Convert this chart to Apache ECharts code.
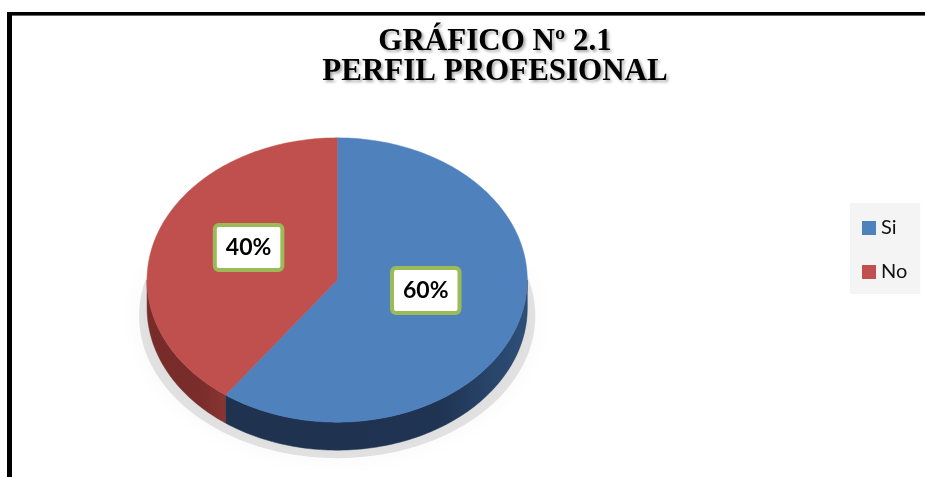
<!DOCTYPE html>
<html>
<head>
<meta charset="utf-8">
<script src="https://cdn.jsdelivr.net/npm/echarts@6/dist/echarts.min.js"></script>
<style>
  html, body { margin: 0; padding: 0; background: #fff; }
  #chart { width: 925px; height: 477px; }
</style>
</head>
<body>
<div id="chart"></div>
<script>
// data
var categories = ['Si', 'No']
var values = [60, 40]
var titleLines = ['GRÁFICO Nº 2.1', 'PERFIL PROFESIONAL']

var topColors = ['#4f81bd', '#c0504d']
var sideColors = [['#2e5079', '#1f3352', '#1f3350'], ['#8a3533', '#7a2d2b', '#772c2a']]

var total = values.reduce(function (a, b) { return a + b }, 0)

// pie geometry (fractions of the canvas)
var geo = { cx: 0.3645, cy: 0.587, rx: 0.2055, ry: 0.298, depth: 28 }

function pt (g, a, dy) {
  // angle measured clockwise from 12 o'clock
  return [g.cx + g.rx * Math.sin(a), g.cy - g.ry * Math.cos(a) + (dy || 0)]
}

function arc (g, a0, a1, dy) {
  var pts = []
  var n = Math.max(2, Math.ceil(Math.abs(a1 - a0) / 0.02))
  for (var i = 0; i <= n; i++) {
    pts.push(pt(g, a0 + (a1 - a0) * i / n, dy))
  }
  return pts
}

function makeRenderItem (idx) {
  return function (params, api) {
    var W = api.getWidth()
    var H = api.getHeight()
    var g = { cx: geo.cx * W, cy: geo.cy * H, rx: geo.rx * W, ry: geo.ry * H }
    var before = 0
    for (var i = 0; i < idx; i++) before += values[i]
    var a0 = before / total * Math.PI * 2
    var a1 = (before + api.value(0)) / total * Math.PI * 2
    var children = []

    if (idx === 0) {
      // soft shadow behind the lower half of the pie
      var gs = { cx: g.cx, cy: g.cy, rx: g.rx + 8, ry: g.ry }
      children.push({
        type: 'polygon',
        z2: 0,
        shape: { points: arc(gs, Math.PI * 0.4, Math.PI * 1.6, geo.depth + 8) },
        style: {
          fill: 'rgba(0,0,0,0.1)',
          shadowBlur: 26,
          shadowColor: 'rgba(0,0,0,0.3)'
        }
      })
    }

    // front wall
    var b0 = Math.max(a0, Math.PI / 2)
    var b1 = Math.min(a1, Math.PI * 1.5)
    if (b1 > b0) {
      var upper = arc(g, b0, b1, 0)
      var lower = arc(g, b0, b1, geo.depth).reverse()
      var sc = sideColors[idx]
      children.push({
        type: 'polygon',
        z2: 1,
        shape: { points: upper.concat(lower) },
        style: {
          fill: new echarts.graphic.LinearGradient(1, 0, 0, 0, [
            { offset: 0, color: sc[0] },
            { offset: 0.3, color: sc[1] },
            { offset: 1, color: sc[2] }
          ]),
          stroke: sc[2],
          lineWidth: 0.5
        }
      })
    }

    // top face
    children.push({
      type: 'polygon',
      z2: 5,
      shape: { points: [[g.cx, g.cy]].concat(arc(g, a0, a1, 0)) },
      style: { fill: topColors[idx], stroke: topColors[idx], lineWidth: 0.5 }
    })

    // percentage label
    var mid = (a0 + a1) / 2
    var lp = [g.cx + g.rx * 0.49 * Math.sin(mid), g.cy - g.ry * 0.49 * Math.cos(mid) - 11]
    children.push({
      type: 'text',
      z2: 10,
      x: lp[0],
      y: lp[1],
      style: {
        text: Math.round(api.value(0) / total * 100) + '%',
        fontFamily: 'Lato',
        fontWeight: 'bold',
        fontSize: 23,
        lineHeight: 25,
        fill: '#000',
        align: 'center',
        verticalAlign: 'middle',
        backgroundColor: '#fff',
        borderColor: '#9bbb59',
        borderWidth: 4,
        borderRadius: 2,
        padding: [8, 9, 8, 9]
      }
    })

    return { type: 'group', children: children }
  }
}

var series = categories.map(function (name, i) {
  return {
    type: 'custom',
    name: name,
    coordinateSystem: 'none',
    itemStyle: { color: topColors[i] },
    renderItem: makeRenderItem(i),
    data: [values[i]],
    silent: true
  }
})

var chart = echarts.init(document.getElementById('chart'))
chart.setOption({
  animation: false,
  backgroundColor: '#fff',
  legend: {
    data: categories,
    orient: 'vertical',
    left: 850,
    top: 203,
    icon: 'rect',
    itemWidth: 14,
    itemHeight: 14,
    itemGap: 24,
    padding: [15, 13, 12, 12],
    backgroundColor: '#f4f4f4',
    textStyle: { fontFamily: 'Lato', fontSize: 20, color: '#111' }
  },
  graphic: [
    { type: 'rect', shape: { x: 7, y: 12, width: 918, height: 4 }, style: { fill: '#000' } },
    { type: 'rect', shape: { x: 7, y: 15, width: 918, height: 1 }, style: { fill: '#666' } },
    { type: 'rect', shape: { x: 7, y: 12, width: 5, height: 465 }, style: { fill: '#000' } },
    {
      type: 'text',
      x: 495,
      y: 57,
      style: {
        text: titleLines.join('\n'),
        fontFamily: 'Liberation Serif',
        fontWeight: 'bold',
        fontSize: 31,
        lineHeight: 30,
        fill: '#000',
        align: 'center',
        verticalAlign: 'middle',
        textShadowColor: 'rgba(0,0,0,0.35)',
        textShadowBlur: 3,
        textShadowOffsetX: 2,
        textShadowOffsetY: 2
      }
    }
  ],
  series: series
})
</script>
</body>
</html>
